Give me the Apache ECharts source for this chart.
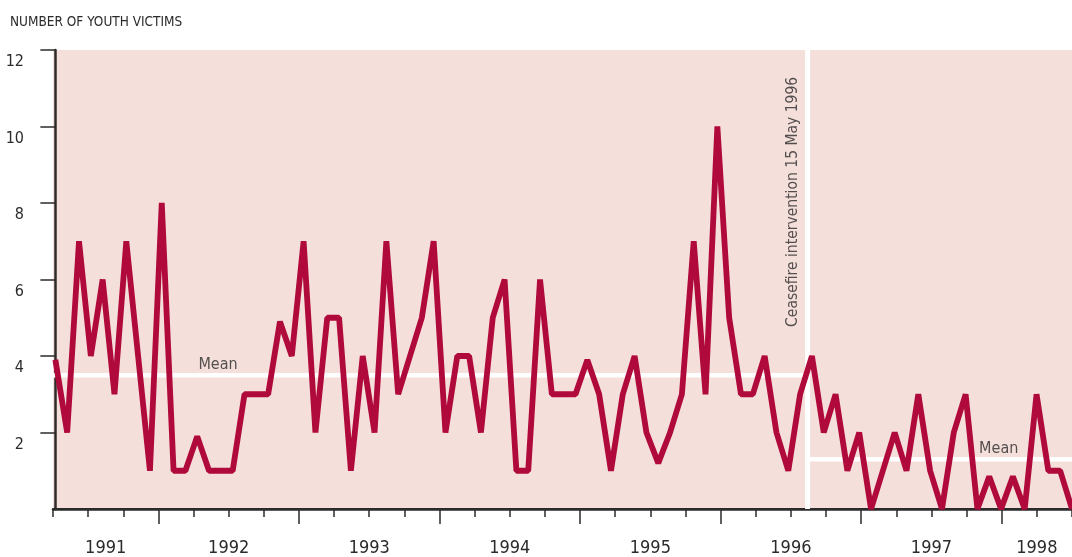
<!DOCTYPE html>
<html>
<head>
<meta charset="utf-8">
<title>Number of youth victims</title>
<script src="https://cdn.jsdelivr.net/npm/echarts@6/dist/echarts.min.js"></script>
<style>
  html, body { margin: 0; padding: 0; background: #fff; }
  #main { width: 1072px; height: 557px; }
</style>
</head>
<body>
<div id="main"></div>
<script>
// monthly counts, one per point, left to right
var victims = [3.9, 2, 7, 4, 6, 3, 7, 4, 1, 8,
  1, 1, 1.9, 1, 1, 1, 3, 3, 3, 4.9,
  4, 7, 2, 5, 5, 1, 4, 2, 7, 3,
  4, 5, 7, 2, 4, 4, 2, 5, 6, 1,
  1, 6, 3, 3, 3, 3.9, 3, 1, 3, 4,
  2, 1.2, 2, 3, 7, 3, 10, 5, 3, 3,
  4, 2, 1, 3, 4, 2, 3, 1, 2, 0,
  1, 2, 1, 3, 1, 0, 2, 3, 0, 0.85,
  0, 0.85, 0, 3, 1, 1, 0];
// means before / after the intervention
var meanBefore = 3.5;
var meanAfter = 1.3;
var ceasefireIdx = 63.63;
var ceasefireText = 'Ceasefire intervention 15 May 1996';
// y ticks
var yTicks = [2, 4, 6, 8, 10, 12];
// year axis: quarter ticks, year ticks, labels centred in each year
var quarterTicks = [];
for (var q = 1991.25; q <= 1998.5001; q += 0.25) quarterTicks.push(Math.round(q * 100) / 100);
var yearTicks = [1992, 1993, 1994, 1995, 1996, 1997, 1998];
var yearLabels = ['1991', '1992', '1993', '1994', '1995', '1996', '1997', '1998'];
var yearLabelPos = [1991.625, 1992.5, 1993.5, 1994.5, 1995.5, 1996.5, 1997.5, 1998.25];

var font = "'Liberation Sans Narrow', 'DejaVu Sans Condensed', 'Noto Sans', sans-serif";
var ink = '#2b2b2b';

(function () {
  var myChart = echarts.init(document.getElementById('main'));
  var option = {
    animation: false,
    title: {
      text: 'NUMBER OF YOUTH VICTIMS',
      left: 5,
      top: 10,
      textStyle: { fontFamily: font, fontSize: 13.5, fontWeight: 'normal', color: ink }
    },
    grid: {
      left: 53,
      right: 0,
      top: 50,
      bottom: 48,
      show: true,
      backgroundColor: '#f5dfdb',
      borderWidth: 0
    },
    xAxis: [{
      // data axis (month index) – also draws the top border
      type: 'value',
      min: -0.2,
      max: 86,
      position: 'top',
      axisLine: { show: true, lineStyle: { color: ink, width: 2 } },
      axisTick: { show: false },
      axisLabel: { show: false },
      splitLine: { show: false }
    }, {
      // quarter ticks + year labels
      type: 'value',
      min: 1991.25,
      max: 1998.5,
      interval: 0.25,
      position: 'bottom',
      axisLine: { show: true, lineStyle: { color: ink, width: 2.5 } },
      axisTick: {
        show: true,
        customValues: quarterTicks,
        length: 8,
        lineStyle: { color: ink, width: 1.5 }
      },
      axisLabel: {
        show: true,
        customValues: yearLabelPos,
        margin: 30,
        fontFamily: font,
        fontSize: 18,
        color: ink,
        formatter: function (v) {
          for (var i = 0; i < yearLabelPos.length; i++) {
            if (Math.abs(yearLabelPos[i] - v) < 1e-6) return yearLabels[i];
          }
          return '';
        }
      },
      splitLine: { show: false }
    }, {
      // long ticks at year boundaries
      type: 'value',
      min: 1991.25,
      max: 1998.5,
      interval: 0.25,
      position: 'bottom',
      axisLine: { show: false },
      axisTick: {
        show: true,
        customValues: yearTicks,
        length: 15,
        lineStyle: { color: ink, width: 1.5 }
      },
      axisLabel: { show: false },
      splitLine: { show: false }
    }],
    yAxis: {
      type: 'value',
      min: 0,
      max: 12,
      interval: 2,
      axisLine: { show: true, lineStyle: { color: ink, width: 2.5 } },
      axisTick: {
        show: true,
        customValues: yTicks,
        length: 15,
        lineStyle: { color: ink, width: 1.5 }
      },
      axisLabel: {
        customValues: yTicks,
        verticalAlign: 'top',
        padding: [4, 0, 0, 0],
        margin: 29,
        fontFamily: font,
        fontSize: 16,
        color: ink
      },
      splitLine: { show: false }
    },
    series: [{
      name: 'Mean before',
      type: 'line',
      xAxisIndex: 0,
      symbol: 'none',
      silent: true,
      z: 1,
      lineStyle: { color: '#ffffff', width: 4.5 },
      data: [[-0.2, meanBefore], [ceasefireIdx, meanBefore]]
    }, {
      name: 'Mean after',
      type: 'line',
      xAxisIndex: 0,
      symbol: 'none',
      silent: true,
      z: 1,
      lineStyle: { color: '#ffffff', width: 4.5 },
      data: [[ceasefireIdx, meanAfter], [86, meanAfter]]
    }, {
      name: 'Ceasefire',
      type: 'line',
      xAxisIndex: 0,
      symbol: 'none',
      silent: true,
      z: 1,
      lineStyle: { color: '#ffffff', width: 5 },
      data: [[ceasefireIdx, 0], [ceasefireIdx, 12]]
    }, {
      name: 'Youth victims',
      type: 'line',
      xAxisIndex: 0,
      symbol: 'none',
      z: 3,
      lineStyle: { color: '#b0093b', width: 5.8, join: 'bevel' },
      data: victims.map(function (v, i) { return [i, v]; })
    }, {
      // text labels
      name: 'Labels',
      type: 'scatter',
      xAxisIndex: 0,
      symbolSize: 0,
      silent: true,
      z: 4,
      label: {
        show: true,
        position: 'top',
        distance: 2,
        fontFamily: font,
        fontSize: 16,
        color: ink,
        formatter: 'Mean'
      },
      data: [
        [13.76, meanBefore],
        [79.8, meanAfter],
        {
          value: [62.36, 8.03],
          label: {
            position: 'inside',
            rotate: 90,
            align: 'center',
            verticalAlign: 'middle',
            fontSize: 15.5,
            formatter: ceasefireText
          }
        }
      ]
    }]
  };
  myChart.setOption(option);
  window.addEventListener('resize', function () {
    myChart.resize();
  });
})();
</script>
</body>
</html>
